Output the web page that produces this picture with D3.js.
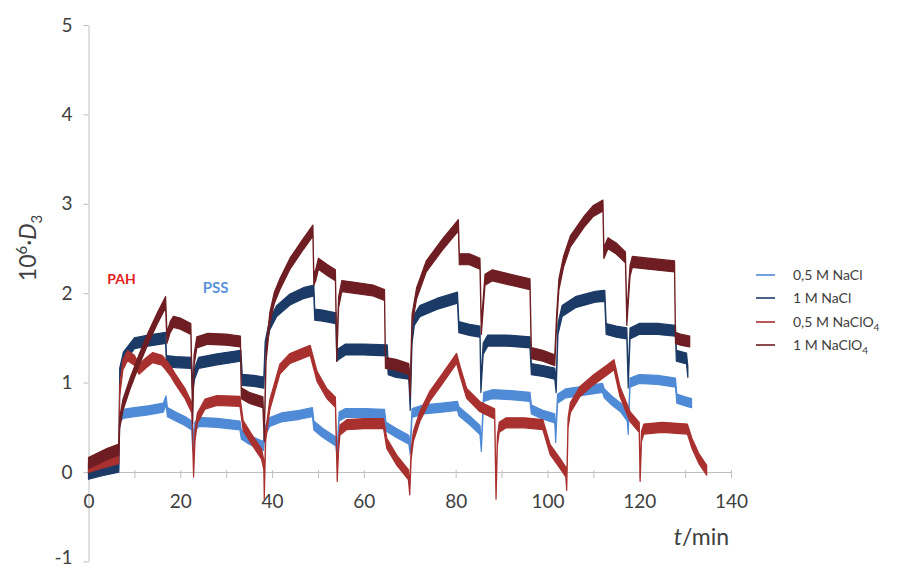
<!DOCTYPE html>
<html>
<head>
<meta charset="utf-8">
<script src="https://cdn.jsdelivr.net/npm/d3@7"></script>
<style>
  html, body { margin: 0; padding: 0; background: #ffffff; }
  svg { display: block; }
  text { font-family: Lato, "Open Sans", sans-serif; }
</style>
</head>
<body>
<svg id="chart" width="906" height="570"></svg>
<script>
// ---- data: [t (min), 10^6·D3] ----
const naCl05 = [
  [0,0.02],[3,0.05],[6.6,0.08],[6.8,0.6],[7.5,0.65],[10,0.67],[13,0.69],[16.3,0.72],[16.9,0.8],[17.2,0.67],
  [19,0.62],[21,0.57],[22.5,0.52],[22.7,0.3],[23.1,0.5],[24,0.56],[28,0.55],[33,0.52],[33.3,0.42],[35,0.36],
  [38.1,0.29],[38.4,0.45],[39.5,0.56],[42,0.61],[46,0.64],[48.8,0.67],[49.1,0.52],[51,0.44],[53.9,0.34],[54.2,0.2],
  [54.6,0.62],[56,0.66],[60,0.66],[64.5,0.65],[64.8,0.51],[67,0.44],[69.8,0.36],[70.1,0.25],[70.5,0.66],[73,0.7],
  [77,0.72],[80.4,0.74],[80.7,0.68],[83,0.58],[85.3,0.47],[85.6,0.28],[86.1,0.84],[88,0.87],[92,0.86],[96.2,0.84],
  [96.5,0.7],[99,0.64],[101.6,0.6],[101.8,0.38],[102.2,0.82],[104,0.88],[108,0.91],[112,0.94],[112.4,0.88],[114,0.8],
  [116,0.72],[117.4,0.62],[117.6,0.47],[118,1.0],[120,1.04],[124,1.03],[127.9,1.0],[128.2,0.82],[130,0.79],[131.4,0.77]
];
const naCl1 = [
  [0,-0.02],[3,0.02],[6.6,0.06],[6.8,1.1],[7.6,1.28],[10,1.44],[13,1.47],[16.8,1.5],[17.0,1.24],[19,1.23],
  [22.4,1.22],[22.7,0.95],[23.1,1.1],[24,1.22],[28,1.26],[33.2,1.3],[33.5,1.03],[36,1.02],[38.2,1.0],[38.5,1.4],
  [39.5,1.65],[41,1.8],[43.9,1.93],[46.8,2.0],[49.1,2.03],[49.3,1.76],[51,1.75],[53.9,1.72],[54.1,1.3],[54.5,1.32],
  [56,1.37],[60,1.37],[65.1,1.36],[65.3,1.15],[67,1.12],[69.8,1.1],[70.1,0.75],[70.5,1.5],[71,1.7],[72.2,1.8],
  [75.9,1.88],[80.4,1.95],[80.7,1.62],[83,1.59],[85.3,1.57],[85.5,0.95],[86,1.38],[87,1.47],[91,1.47],[96.2,1.45],
  [96.5,1.15],[99,1.13],[101.6,1.1],[101.9,0.95],[102.3,1.6],[103.2,1.8],[106.1,1.9],[110.4,1.96],[112.5,1.97],[112.8,1.6],
  [115,1.57],[117.3,1.55],[117.6,1.0],[118,1.55],[120,1.6],[124,1.6],[127.9,1.58],[128.1,1.3],[130.3,1.27],[130.6,1.12]
];
const naClO405 = [
  [0,0.05],[3,0.1],[6.6,0.15],[6.8,0.9],[7.5,1.2],[8.5,1.3],[10,1.25],[11,1.15],[12.5,1.22],[14,1.28],
  [16,1.25],[16.8,1.2],[18,1.12],[18.8,1.05],[21,0.88],[22.5,0.72],[22.9,0.0],[23.2,0.4],[23.7,0.6],[25.4,0.76],
  [28,0.8],[33,0.79],[33.7,0.52],[35.5,0.37],[37.7,0.2],[38.2,0.08],[38.3,-0.25],[38.6,0.4],[39.5,0.75],[41.7,1.15],
  [43.9,1.27],[46.8,1.33],[48.3,1.36],[49.8,1.07],[51.9,0.88],[53.8,0.78],[54.2,-0.05],[54.5,0.3],[54.8,0.47],[56.3,0.53],
  [60,0.54],[64.3,0.54],[65,0.32],[67.2,0.13],[69.7,-0.03],[70.0,-0.2],[70.3,0.2],[70.8,0.4],[72.2,0.62],[74.4,0.85],
  [77.2,1.05],[80.2,1.27],[81,1.12],[82.4,0.88],[85.3,0.73],[88.5,0.65],[88.8,-0.25],[89.1,0.35],[89.5,0.5],[91,0.55],
  [95,0.55],[99,0.53],[100.6,0.25],[102.7,0.1],[104,0.0],[104.2,-0.15],[104.5,0.55],[105,0.72],[107.1,0.9],[110,1.03],
  [113,1.14],[114.5,1.2],[115.8,0.9],[118,0.62],[120,0.5],[120.2,-0.05],[120.5,0.4],[121,0.48],[125,0.5],[130.5,0.48],
  [131.5,0.32],[133,0.15],[134.7,0.02]
];
const naClO41 = [
  [0,0.1],[2,0.15],[4,0.2],[6.6,0.25],[6.8,0.55],[7.5,0.75],[9,0.98],[11,1.25],[13,1.5],[15,1.72],
  [16.8,1.9],[17.1,1.5],[17.8,1.62],[18.5,1.68],[20,1.66],[22.3,1.6],[22.7,0.6],[23.0,1.25],[23.6,1.45],[26,1.49],
  [30,1.48],[33.1,1.46],[33.3,0.88],[35,0.83],[38,0.78],[38.3,0.4],[38.7,1.3],[39.5,1.72],[40.5,1.95],[41.7,2.1],
  [43.9,2.33],[46.8,2.55],[48.9,2.7],[49.1,2.15],[49.5,2.2],[50.1,2.33],[52,2.26],[53.8,2.2],[54.1,1.3],[54.5,1.9],
  [55.2,2.08],[58,2.06],[62,2.03],[64.5,1.98],[64.7,1.22],[67,1.2],[69.8,1.15],[70.1,0.9],[70.5,1.7],[71.5,2.0],
  [73.6,2.3],[77.2,2.55],[80.6,2.76],[80.8,2.38],[83,2.38],[85.3,2.33],[85.6,1.6],[86.4,2.15],[88,2.2],[92,2.15],
  [96.2,2.1],[96.5,1.33],[99,1.3],[101.6,1.25],[102.0,1.7],[102.5,2.1],[103.5,2.35],[105,2.58],[108,2.8],[110,2.92],
  [112.1,2.98],[112.3,2.45],[113.2,2.56],[115,2.5],[117,2.4],[117.3,1.7],[118.0,2.25],[118.5,2.35],[122,2.33],[127.7,2.3],
  [127.9,1.5],[129,1.48],[131,1.46]
];

const seriesNames = ["0,5 M NaCl", "1 M NaCl", "0,5 M NaClO", "1 M NaClO"];
const seriesSubs = ["", "", "4", "4"];
const xTicks = [0,10,20,30,40,50,60,70,80,90,100,110,120,130,140];
const xLabels = [0,20,40,60,80,100,120,140];
const yTicks = [-1,0,1,2,3,4,5];
const annotations = [
  {text: "PAH", t: 4.1, v: 2.1},
  {text: "PSS", t: 24.9, v: 2.0}
];

// ---- styling ----
const colors = ["#4f8ad6", "#1b3a66", "#a8302e", "#6e1e22"];
const bandHalf = [4.5, 5.5, 5, 5.5];
const allSeries = [naCl05, naCl1, naClO405, naClO41];

const svg = d3.select("#chart");
const x = d3.scaleLinear().domain([0, 140]).range([88.5, 731]);
const y = d3.scaleLinear().domain([-1, 5]).range([561.4, 25]);
const axisColor = "#bfbfbf";
const textColor = "#404040";

// y axis
const yAxis = svg.append("g")
  .attr("transform", `translate(${x(0)},0)`)
  .call(d3.axisLeft(y).tickValues(yTicks).tickSize(5).tickSizeOuter(0).tickPadding(11).tickFormat(d => String(d)));
yAxis.select(".domain").attr("stroke", axisColor);
yAxis.selectAll(".tick line").attr("stroke", axisColor);
yAxis.selectAll(".tick text").attr("fill", textColor).style("font-size", "19px")
  .attr("dy", d => d === -1 ? "0.12em" : "0.32em");

// x axis at y = 0
const xAxis = svg.append("g")
  .attr("transform", `translate(0,${y(0)})`)
  .call(d3.axisBottom(x).tickValues(xTicks).tickSize(6).tickSizeOuter(0).tickPadding(17)
    .tickFormat(d => xLabels.includes(d) ? String(d) : ""));
xAxis.select(".domain").attr("stroke", axisColor);
xAxis.selectAll(".tick line").attr("stroke", axisColor).attr("y1", -2);
xAxis.selectAll(".tick text").attr("fill", textColor).style("font-size", "19px");

// series as noisy bands
allSeries.forEach((data, i) => {
  const hw = bandHalf[i];
  const area = d3.area()
    .x(d => x(d[0]))
    .y0(d => y(d[1]) + hw)
    .y1(d => y(d[1]) - hw);
  svg.append("path")
    .datum(data)
    .attr("d", area)
    .attr("fill", colors[i])
    .attr("stroke", colors[i])
    .attr("stroke-width", 1.2)
    .attr("stroke-linejoin", "round");
});

// annotations
svg.append("text").attr("x", x(annotations[0].t)).attr("y", y(annotations[0].v))
  .attr("fill", "#e3201e").style("font-size", "14px").style("font-weight", "bold")
  .text(annotations[0].text);
svg.append("text").attr("x", x(annotations[1].t)).attr("y", y(annotations[1].v))
  .attr("fill", "#5b93d8").style("font-size", "15px").style("font-weight", "bold")
  .text(annotations[1].text);

// axis titles
const yTitle = svg.append("text")
  .attr("transform", "translate(36,248) rotate(-90)")
  .attr("text-anchor", "middle")
  .attr("fill", textColor)
  .style("font-size", "23px");
yTitle.append("tspan").text("10");
yTitle.append("tspan").attr("dy", -9).style("font-size", "15px").text("6");
yTitle.append("tspan").attr("dy", 9).text("·");
yTitle.append("tspan").style("font-style", "italic").text("D");
yTitle.append("tspan").attr("dy", 6).style("font-size", "15px").text("3");

const xTitle = svg.append("text")
  .attr("x", 729).attr("y", 545)
  .attr("text-anchor", "end")
  .attr("fill", textColor)
  .style("font-size", "23px");
xTitle.append("tspan").style("font-style", "italic").text("t");
xTitle.append("tspan").text("/min");

// legend
const legendRows = [275, 298, 322, 345];
seriesNames.forEach((name, i) => {
  const g = svg.append("g").attr("transform", `translate(0,${legendRows[i]})`);
  g.append("line").attr("x1", 756).attr("x2", 775).attr("y1", 0).attr("y2", 0)
    .attr("stroke", colors[i]).attr("stroke-width", 1.6);
  const t = g.append("text").attr("x", 793).attr("y", 5)
    .attr("fill", textColor).style("font-size", "14px");
  t.append("tspan").text(name);
  if (seriesSubs[i]) t.append("tspan").attr("dy", 4).style("font-size", "10px").text(seriesSubs[i]);
});
</script>
</body>
</html>
